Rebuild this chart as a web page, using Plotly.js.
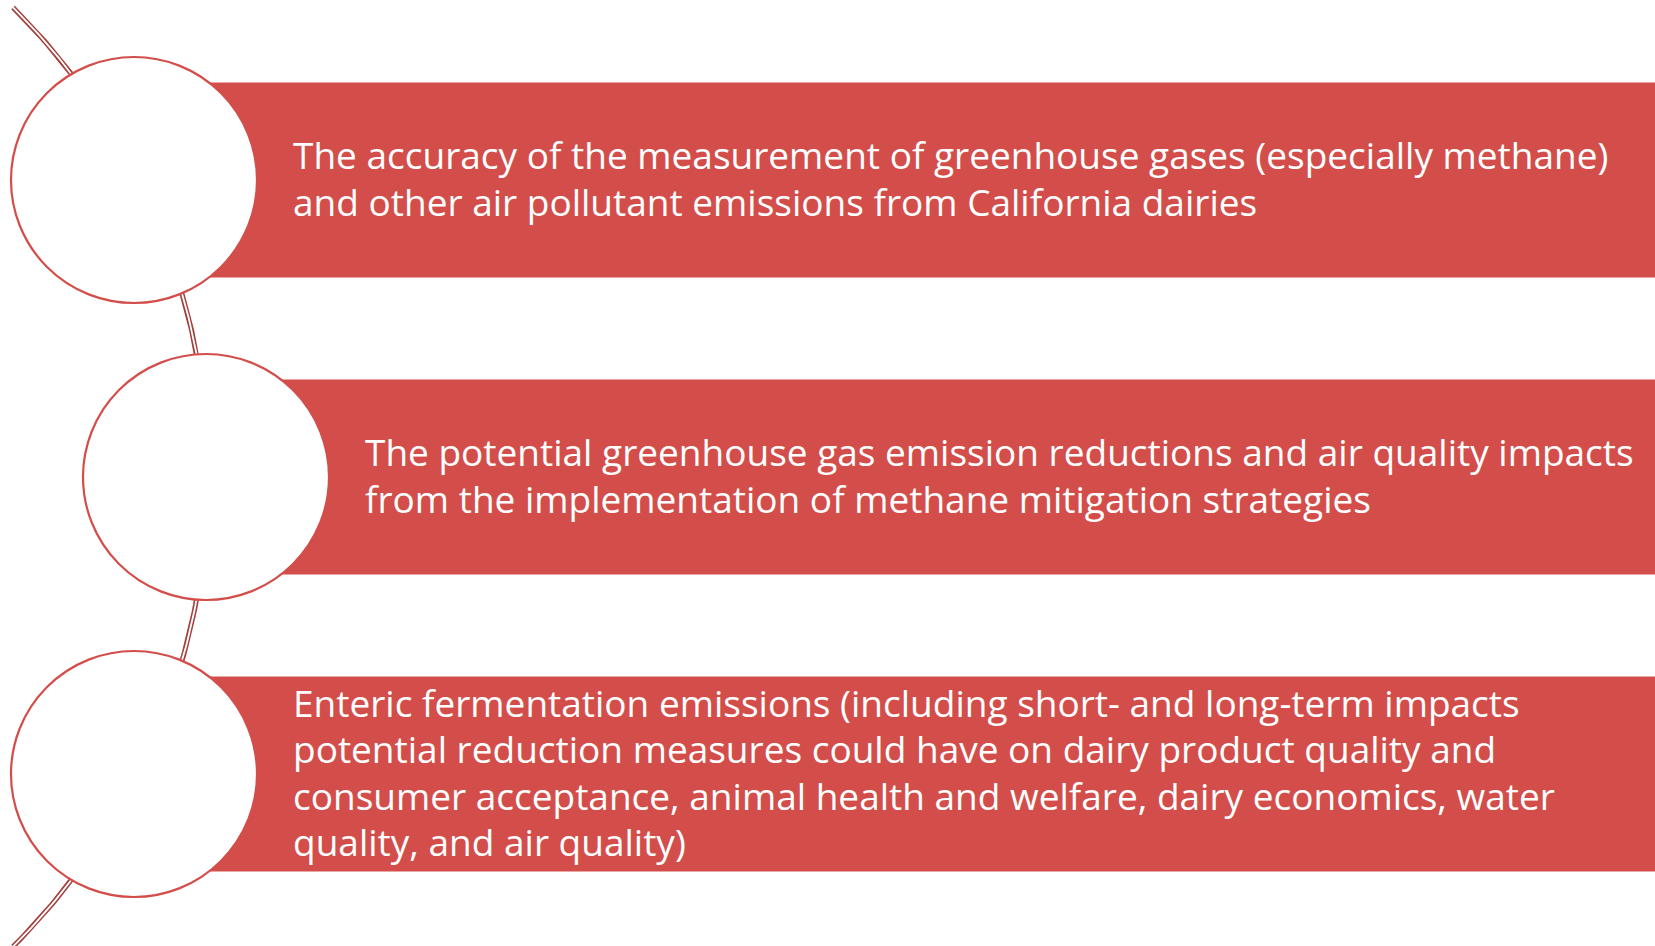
<!DOCTYPE html>
<html>
<head>
<meta charset="utf-8">
<script src="https://cdn.plot.ly/plotly-3.0.1.min.js"></script>
<style>html,body{margin:0;padding:0;background:#fff;}#chart{width:1655px;height:946px;}</style>
</head>
<body>
<div id="chart"></div>
<script>
// Content
const item1Lines = [
  "The accuracy of the measurement of greenhouse gases (especially methane)",
  "and other air pollutant emissions from California dairies"
];
const item2Lines = [
  "The potential greenhouse gas emission reductions and air quality impacts",
  "from the implementation of methane mitigation strategies"
];
const item3Lines = [
  "Enteric fermentation emissions (including short- and long-term impacts",
  "potential reduction measures could have on dairy product quality and",
  "consumer acceptance, animal health and welfare, dairy economics, water",
  "quality, and air quality)"
];
const items = [item1Lines, item2Lines, item3Lines];
const circleCentersX = [134, 206, 134];
const rowCentersY = [180, 477, 774];

// Styling / layout
const W = 1655, H = 946;
const barColor = '#D34E4A';
const arcColor = '#A3403C';
const R = 123;
const barHalf = 97.5;
const textOffset = 157;
const lineGap = 46.5;

const shapes = [];
const annotations = [];
items.forEach((lines, i) => {
  const cx = circleCentersX[i], cy = rowCentersY[i];
  shapes.push({type:'rect', xref:'x', yref:'y', layer:'above',
    x0: cx, x1: W + 5, y0: cy - barHalf, y1: cy + barHalf,
    fillcolor: barColor, line:{width:0}});
});
items.forEach((lines, i) => {
  const cx = circleCentersX[i], cy = rowCentersY[i];
  shapes.push({type:'circle', xref:'x', yref:'y', layer:'above',
    x0: cx - R, x1: cx + R, y0: cy - R, y1: cy + R,
    fillcolor: '#FFFFFF', line:{color: barColor, width: 2.2}});
  const n = lines.length;
  lines.forEach((t, j) => {
    annotations.push({xref:'x', yref:'y', x: cx + textOffset,
      y: cy - 2 + (j - (n - 1) / 2) * lineGap,
      xanchor:'left', yanchor:'middle', align:'left', showarrow:false,
      text: t, font:{family:'Open Sans, sans-serif', size:37, color:'#FFFFFF'}});
  });
});

// Background arc (decorative connector)
const arcCx = -455, arcCy = 477, arcR = 663;
const ax = [], ay = [];
for (let k = 0; k <= 200; k++) {
  const a = -0.787 + 1.574 * k / 200;
  ax.push(arcCx + arcR * Math.cos(a));
  ay.push(arcCy + arcR * Math.sin(a));
}
const traces = [
  {x: ax, y: ay, mode:'lines', line:{color: arcColor, width: 5}, hoverinfo:'skip', showlegend:false},
  {x: ax, y: ay, mode:'lines', line:{color: '#FFFFFF', width: 1.8}, hoverinfo:'skip', showlegend:false}
];

const layout = {
  width: W, height: H,
  margin:{l:0, r:0, t:0, b:0},
  paper_bgcolor:'#FFFFFF', plot_bgcolor:'#FFFFFF',
  xaxis:{range:[0, W], visible:false, fixedrange:true},
  yaxis:{range:[H, 0], visible:false, fixedrange:true},
  shapes: shapes,
  annotations: annotations,
  showlegend:false
};
Plotly.newPlot('chart', traces, layout, {staticPlot:true, displayModeBar:false});
</script>
</body>
</html>
